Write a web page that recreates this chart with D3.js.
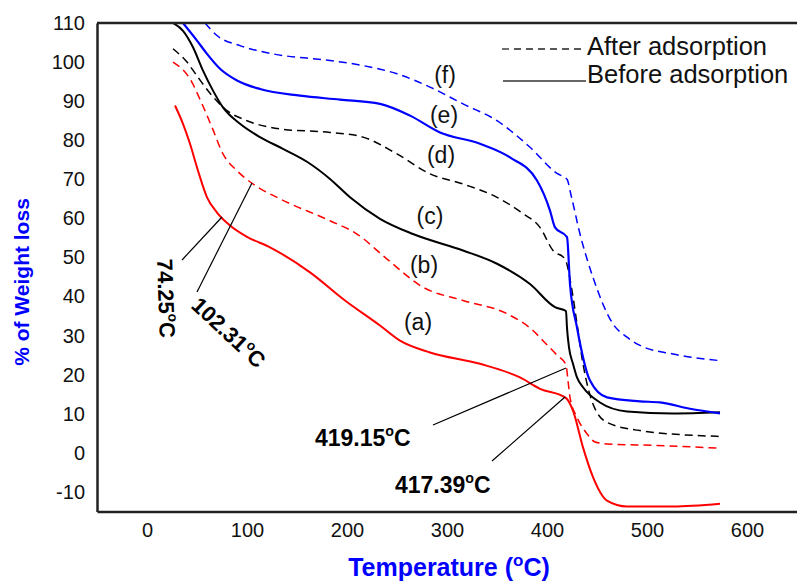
<!DOCTYPE html>
<html><head><meta charset="utf-8">
<script src="https://cdn.jsdelivr.net/npm/d3@7"></script>
<style>body{margin:0;background:#fff}svg{display:block;font-family:Arial,"Liberation Sans",sans-serif}</style>
</head><body>
<svg id="c" width="797" height="582"></svg>
<script>
// ---- data (Temperature °C, % weight) ----
const xTicks = [0, 100, 200, 300, 400, 500, 600];
const yTicks = [-10, 0, 10, 20, 30, 40, 50, 60, 70, 80, 90, 100, 110];

const aT = [28, 36, 43, 51, 60, 70, 83, 100, 123, 163, 198, 233, 253, 283, 333, 373, 393, 418, 420, 426, 436, 446, 460, 480, 526, 573];
const aW = [88.9, 84.2, 79.1, 72.2, 65.4, 61.5, 58.2, 55.3, 52.6, 46.2, 39, 32.6, 28.7, 25.7, 22.8, 19.3, 16.4, 14.2, 13.8, 10.8, 1.4, -6.2, -12.2, -13.7, -13.7, -13.0];

const bT = [26, 43, 55, 65, 76, 90, 106, 133, 183, 210, 240, 276, 316, 360, 386, 396, 410, 419, 421, 423, 430, 440, 448, 460, 510, 573];
const bW = [100, 95.7, 89.3, 83.3, 76.5, 72.2, 68.8, 65, 59.4, 56, 49.6, 42.4, 39, 35.6, 31.3, 28.7, 25, 22.5, 18.5, 14.2, 9.1, 4.9, 2.8, 2.3, 1.9, 1.2];

const cT = [26, 36, 46, 56, 66, 76, 93, 113, 136, 160, 183, 203, 233, 266, 316, 350, 383, 408, 419, 420, 422, 426, 430, 436, 453, 480, 526, 573];
const cW = [110, 108, 103.8, 97.8, 92.7, 88.4, 84.2, 80.8, 77.8, 74.5, 70.1, 65.4, 59.9, 56, 51.8, 48.4, 43.2, 37.3, 36.3, 32, 27, 22.8, 19.3, 16.8, 12.9, 10.6, 10.1, 10.4];

const dT = [26, 40, 51, 65, 80, 100, 133, 183, 216, 250, 283, 316, 350, 376, 393, 406, 418, 425, 430, 436, 446, 460, 493, 573];
const dW = [103.4, 100, 96.1, 91.4, 87.6, 85, 82.9, 82, 80.8, 76.5, 71.4, 68.8, 65.4, 61.2, 57.7, 51.8, 49.6, 41.5, 33, 22.8, 12.5, 7.8, 5.7, 4.2];

const eT = [36, 50, 60, 73, 90, 113, 153, 193, 233, 263, 293, 333, 363, 390, 403, 408, 420, 423, 430, 443, 460, 493, 513, 543, 573];
const eW = [110, 105.5, 102.1, 98.3, 95.3, 93.1, 91.4, 90.4, 89.3, 86.3, 82, 79.1, 75.6, 69.7, 62, 57.7, 55.2, 43.2, 32.1, 18.5, 14.2, 13.2, 12.9, 11.3, 10.1];

const fT = [58, 70, 93, 126, 183, 216, 250, 283, 316, 350, 383, 410, 420, 424, 433, 446, 466, 480, 493, 526, 573];
const fW = [110, 106.8, 104.2, 102.1, 100.4, 99.1, 97, 93.6, 89.3, 85, 78.2, 71.5, 70, 66, 56, 44.9, 33, 29.6, 27.5, 25.3, 23.6];

const seriesNames = ["(a)", "(b)", "(c)", "(d)", "(e)", "(f)"];
const legendLabels = ["After adsorption", "Before adsorption"];

// ---- chart ----
const svg = d3.select("#c");
const L = 97, R = 797, T = 23, B = 511.5;
const x = d3.scaleLinear().domain([-50, 650]).range([L, R]);
const y = d3.scaleLinear().domain([-15, 110]).range([B, T]);

svg.append("defs").append("clipPath").attr("id", "clip")
  .append("rect").attr("x", L).attr("y", T).attr("width", R - L).attr("height", B - T);

const series = [
  {T: aT, W: aW, color: "#ff0000", dash: null, w: 2},
  {T: bT, W: bW, color: "#ff0000", dash: "8,5", w: 1.5},
  {T: cT, W: cW, color: "#000000", dash: null, w: 2},
  {T: dT, W: dW, color: "#000000", dash: "8,5", w: 1.5},
  {T: eT, W: eW, color: "#0000ff", dash: null, w: 2.2},
  {T: fT, W: fW, color: "#0000ff", dash: "8,5", w: 1.5}
];

const line = d3.line().x(d => x(d[0])).y(d => y(d[1])).curve(d3.curveMonotoneX);
const g = svg.append("g").attr("clip-path", "url(#clip)");
series.forEach(s => {
  g.append("path")
    .attr("d", line(s.T.map((t, i) => [t, s.W[i]])))
    .attr("fill", "none").attr("stroke", s.color)
    .attr("stroke-width", s.w)
    .attr("stroke-dasharray", s.dash);
});

// axes
const fmt = d => String(d);
const yAxis = svg.append("g").attr("transform", `translate(${L},0)`)
  .call(d3.axisLeft(y).tickValues(yTicks).tickFormat(fmt).tickSize(0).tickPadding(12).tickSizeOuter(0));
const xAxis = svg.append("g").attr("transform", `translate(0,${B})`)
  .call(d3.axisBottom(x).tickValues(xTicks).tickFormat(fmt).tickSize(0).tickPadding(11).tickSizeOuter(0));
[yAxis, xAxis].forEach(a => {
  a.attr("font-size", 20).attr("font-family", "Arial, 'Liberation Sans', sans-serif");
  a.select(".domain").attr("stroke", "#222").attr("stroke-width", 2.5);
  a.selectAll("text").attr("font-size", 20).attr("fill", "#111");
});
// top frame line
svg.append("line").attr("x1", L).attr("x2", R).attr("y1", T).attr("y2", T)
  .attr("stroke", "#222").attr("stroke-width", 2.5);

// axis titles
svg.append("text").attr("transform", "translate(29,282) rotate(-90)")
  .attr("text-anchor", "middle").attr("font-size", 21).attr("font-weight", "bold")
  .attr("fill", "#0000ff").text("% of Weight loss");
const xt = svg.append("text").attr("x", 449).attr("y", 576)
  .attr("text-anchor", "middle").attr("font-size", 25).attr("font-weight", "bold")
  .attr("fill", "#0000ff");
xt.append("tspan").text("Temperature (");
xt.append("tspan").attr("dy", -10).attr("font-size", 17).text("o");
xt.append("tspan").attr("dy", 10).text("C)");

// legend
const lg = svg.append("g");
lg.append("line").attr("x1", 502).attr("x2", 586).attr("y1", 49).attr("y2", 49)
  .attr("stroke", "#222").attr("stroke-width", 1.3).attr("stroke-dasharray", "7,5");
lg.append("line").attr("x1", 503).attr("x2", 586).attr("y1", 81).attr("y2", 81)
  .attr("stroke", "#333").attr("stroke-width", 1.5);
lg.append("text").attr("x", 587).attr("y", 55).attr("font-size", 25.5).attr("fill", "#111").text(legendLabels[0]);
lg.append("text").attr("x", 587).attr("y", 83).attr("font-size", 25.5).attr("fill", "#111").text(legendLabels[1]);

// series labels
const labelPos = [[418, 322], [424, 265], [430, 216], [441, 155], [444, 115], [445, 75]];
seriesNames.forEach((n, i) => {
  svg.append("text").attr("x", labelPos[i][0]).attr("y", labelPos[i][1])
    .attr("text-anchor", "middle").attr("dominant-baseline", "central")
    .attr("font-size", 23).attr("fill", "#111").text(n);
});

// annotations
function tempLabel(sel, val, fs) {
  sel.append("tspan").text(val);
  sel.append("tspan").attr("dy", -fs * 0.42).attr("font-size", fs * 0.62).text("o");
  sel.append("tspan").attr("dy", fs * 0.42).text("C");
}
const ann = svg.append("g").attr("fill", "#000").attr("font-weight", "bold");
const leaders = [[182, 260, 222, 217], [197, 292, 252, 183], [433, 425, 566, 368], [492, 461, 565, 397]];
leaders.forEach(l => svg.append("line").attr("x1", l[0]).attr("y1", l[1]).attr("x2", l[2]).attr("y2", l[3])
  .attr("stroke", "#000").attr("stroke-width", 1.2));
tempLabel(ann.append("text").attr("transform", "translate(157,259) rotate(88)").attr("font-size", 22), "74.25", 22);
tempLabel(ann.append("text").attr("transform", "translate(190,307) rotate(43)").attr("font-size", 22), "102.31", 22);
tempLabel(ann.append("text").attr("x", 315).attr("y", 446).attr("font-size", 23), "419.15", 23);
tempLabel(ann.append("text").attr("x", 395).attr("y", 493).attr("font-size", 23), "417.39", 23);
</script>
</body></html>
